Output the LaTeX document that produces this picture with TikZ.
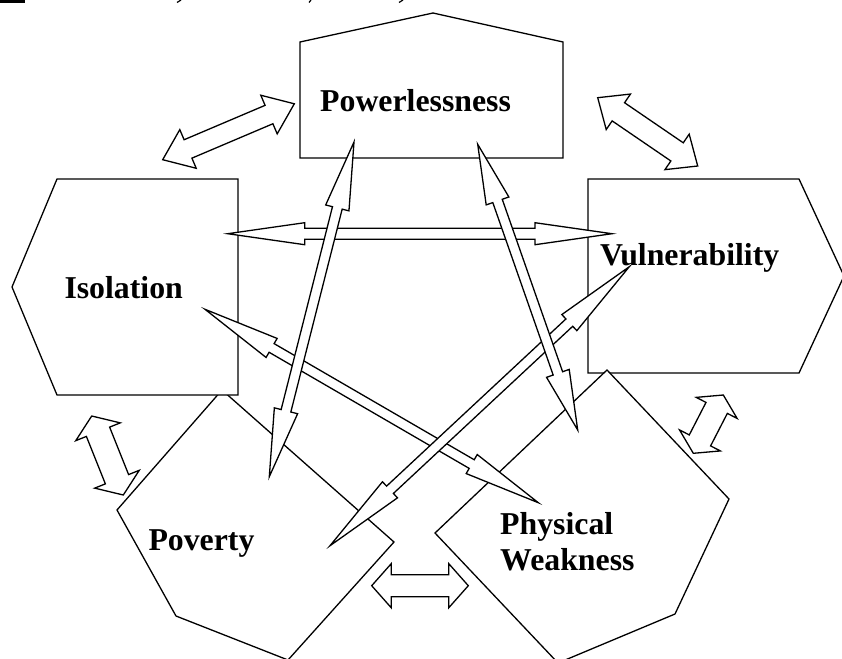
\documentclass[tikz,border=0pt]{standalone}
\usepackage{fontspec}
\setmainfont{Liberation Serif}
\usetikzlibrary{calc}
\tikzset{
  shapebox/.style={draw=black, fill=white, line width=1.3pt, line join=miter},
  blockarr/.style={draw=black, fill=white, line width=1.3pt, line join=miter},
  lbl/.style={inner sep=0pt, anchor=base west, font=\bfseries\fontsize{31.8}{36.7}\selectfont}
}
% double block arrow between two named coordinates:
% #1,#2 tips; #3 half shaft width; #4 half head width; #5 head length
\newcommand\dblblock[5]{%
  \draw[blockarr] (#1)
    -- ($(#1)!#5!(#2)!#4!90:(#2)$) -- ($(#1)!#5!(#2)!#3!90:(#2)$)
    -- ($(#2)!#5!(#1)!#3!-90:(#1)$) -- ($(#2)!#5!(#1)!#4!-90:(#1)$)
    -- (#2)
    -- ($(#2)!#5!(#1)!#4!90:(#1)$) -- ($(#2)!#5!(#1)!#3!90:(#1)$)
    -- ($(#1)!#5!(#2)!#3!-90:(#2)$) -- ($(#1)!#5!(#2)!#4!-90:(#2)$)
    -- cycle;}
\begin{document}
\begin{tikzpicture}[x=1pt,y=-1pt]
\useasboundingbox (0,0) rectangle (842,658);
\fill[white] (0,0) rectangle (842,658);
\clip (0,0) rectangle (842,658);

% clipped title remnants
\fill[black] (0,0) rectangle (25,3.5);
\draw[line width=1.2pt] (177,2.5) -- (181,0);
\draw[line width=1.2pt] (309,2.5) -- (311,0);
\draw[line width=1.2pt] (399,2.5) -- (403,0);

% pentagon shapes
\draw[shapebox] (300,158) -- (300,42) -- (433,13) -- (563,42) -- (563,158) -- cycle;
\draw[shapebox] (588,179) -- (799,179) -- (844,276) -- (799,373) -- (588,373) -- cycle;
\draw[shapebox] (607,370) -- (729,499) -- (675,614) -- (558,663) -- (435,533) -- cycle;
\draw[shapebox] (222,390) -- (394,542) -- (288,660) -- (176,616) -- (117,510) -- cycle;
\draw[shapebox] (57,179) -- (238,179) -- (238,395) -- (57,395) -- (12,287) -- cycle;

% arrow end points
\coordinate (ipA) at (162.7,159.7);  \coordinate (ipB) at (294.3,103.8);
\coordinate (pvA) at (597.7,97.7);   \coordinate (pvB) at (697.7,166);
\coordinate (iqA) at (91.7,416);     \coordinate (iqB) at (123.3,495);
\coordinate (vwA) at (723.3,395);    \coordinate (vwB) at (693.3,453.3);
\coordinate (qwA) at (371.7,585.7);  \coordinate (qwB) at (468.3,585.7);
\coordinate (ivA) at (227.7,233.7);  \coordinate (ivB) at (612,233.7);
\coordinate (pqA) at (354,142);      \coordinate (pqB) at (269.3,476.7);
\coordinate (pwA) at (477.7,144.3);  \coordinate (pwB) at (577.7,430);
\coordinate (iwA) at (205,309.3);    \coordinate (iwB) at (538.3,502.7);
\coordinate (vqA) at (629.3,266.7);  \coordinate (vqB) at (330,545.7);

% short block arrows between neighbours
\dblblock{ipA}{ipB}{10pt}{21pt}{27.5pt}
\dblblock{pvA}{pvB}{11pt}{21.5pt}{25pt}
\dblblock{iqA}{iqB}{12.5pt}{24pt}{17pt}
\dblblock{vwA}{vwB}{12pt}{23pt}{14.5pt}
\dblblock{qwA}{qwB}{11pt}{22pt}{19.5pt}

% long arrows
\dblblock{ivA}{ivB}{5.5pt}{11pt}{77pt}
\dblblock{iwA}{iwB}{5pt}{11pt}{77pt}
\dblblock{vqA}{vqB}{5pt}{11pt}{82pt}
\dblblock{pqA}{pqB}{5pt}{12pt}{68pt}
\dblblock{pwA}{pwB}{5pt}{12pt}{60pt}

% labels
\node[lbl] (pow) at (320,111.7) {Powerlessness};
\node[lbl] (iso) at (64.3,298.3) {Isolation};
\node[lbl] (vul) at (600,265) {Vulnerability};
\node[lbl] (pov) at (148.3,550) {Poverty};
\node[lbl] (phy) at (500,534) {Physical};
\node[lbl] (wea) at (500,570.7) {Weakness};
\end{tikzpicture}
\end{document}
